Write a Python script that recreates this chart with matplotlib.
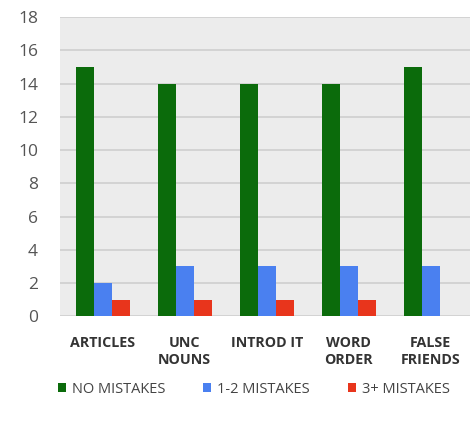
import numpy as np
import matplotlib.pyplot as plt

categories = ["ARTICLES", "UNC\nNOUNS", "INTROD IT", "WORD\nORDER", "FALSE\nFRIENDS"]
no_mistakes = [15, 14, 14, 14, 15]
one_two_mistakes = [2, 3, 3, 3, 3]
three_plus_mistakes = [1, 1, 1, 1, 0]

series = [
    ("NO MISTAKES", no_mistakes, "#0b6b0b"),
    ("1-2 MISTAKES", one_two_mistakes, "#4a80f0"),
    ("3+ MISTAKES", three_plus_mistakes, "#e8351c"),
]

plt.rcParams['font.family'] = ['Open Sans', 'DejaVu Sans']

fig = plt.figure(figsize=(4.7, 4.21), dpi=100)
ax = fig.add_axes([0.128, 0.249, 0.872, 0.71])
ax.set_facecolor("#ececec")

x = np.arange(len(categories))
width = 0.22
for i, (name, vals, color) in enumerate(series):
    ax.bar(x + (i - 1) * width, vals, width, color=color, label=name, zorder=3)

ax.set_xlim(-0.52, 4.48)
ax.set_ylim(0, 18)
ax.set_yticks(range(0, 19, 2))
ax.yaxis.grid(True, color="#cfcfcf", linewidth=1.2, zorder=0)
ax.set_xticks(x)
ax.set_xticklabels(categories, fontsize=10.3, fontweight="bold", color="#333333",
                   linespacing=1.3)
ax.tick_params(axis="y", labelsize=12.5, colors="#555555", length=0, pad=16)
ax.tick_params(axis="x", length=0, pad=14)
for spine in ax.spines.values():
    spine.set_visible(False)

leg = fig.legend(loc="center", bbox_to_anchor=(0.54, 0.076), ncol=3,
                 frameon=False, fontsize=10.5, handlelength=0.55, handleheight=0.55,
                 handletextpad=0.4, columnspacing=2.6)
for t in leg.get_texts():
    t.set_color("#444444")

fig.savefig("out.png", dpi=100)
